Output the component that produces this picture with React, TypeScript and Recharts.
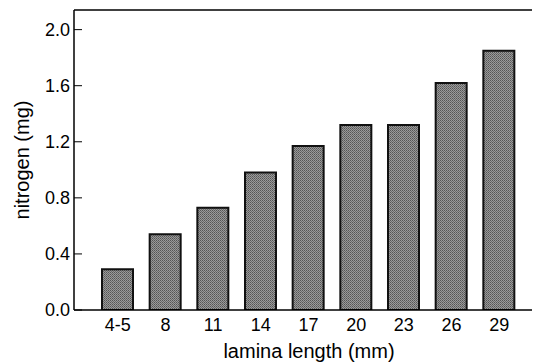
import React from 'react';
import { BarChart, Bar, XAxis, YAxis, ReferenceLine } from 'recharts';

// lamina length classes (mm) and nitrogen per lamina (mg)
const lengths = ['4-5', '8', '11', '14', '17', '20', '23', '26', '29'];
const nitrogen = [0.29, 0.54, 0.73, 0.98, 1.17, 1.32, 1.32, 1.62, 1.85];
const yTicks = [0, 0.4, 0.8, 1.2, 1.6, 2.0];
const Y_MAX = 2.14;

const FONT = '"Liberation Sans", Arial, Helvetica, sans-serif';

const data = lengths.map((len, i) => ({ len, n: nitrogen[i] }));

// custom ticks so the font size sticks
const XTick = (props: any) => {
  const { x, y, payload } = props;
  return (
    <text x={x} y={y} dy="0.71em" textAnchor="middle" fill="#000" fontSize={18} fontFamily={FONT}>
      {payload.value}
    </text>
  );
};

const YTick = (props: any) => {
  const { x, y, payload } = props;
  return (
    <text x={x} y={y} dy="0.36em" textAnchor="end" fill="#000" fontSize={18} fontFamily={FONT}>
      {Number(payload.value).toFixed(1)}
    </text>
  );
};

const App: React.FC = () => {
  return (
    <div style={{ width: 536, height: 362, fontFamily: FONT }}>
      <style>{`body{margin:0}`}</style>
      <BarChart
        width={536}
        height={362}
        data={data}
        margin={{ top: 10, right: 4, bottom: 0, left: 0 }}
        barSize={31}
      >
        <defs>
          <pattern id="stipple" width="2" height="2" patternUnits="userSpaceOnUse">
            <rect width="2" height="2" fill="#9a9a9a" />
            <rect width="1" height="1" fill="#555" />
            <rect x="1" y="1" width="1" height="1" fill="#6a6a6a" />
          </pattern>
        </defs>
        <XAxis
          dataKey="len"
          height={52}
          padding={{ left: 20, right: 9 }}
          tickLine={false}
          tickSize={0}
          tickMargin={8}
          axisLine={{ stroke: '#000', strokeWidth: 1.5 }}
          tick={<XTick />}
          label={{
            value: 'lamina length (mm)',
            position: 'insideBottom',
            offset: 4,
            dx: 6,
            fill: '#000',
            fontSize: 20,
            fontFamily: FONT,
          }}
        />
        <YAxis
          width={74}
          domain={[0, Y_MAX]}
          ticks={yTicks}
          allowDataOverflow
          tickSize={-8}
          tickMargin={12}
          tickLine={{ stroke: '#000', strokeWidth: 1 }}
          axisLine={{ stroke: '#000', strokeWidth: 1.5 }}
          tick={<YTick />}
          label={{
            value: 'nitrogen (mg)',
            angle: -90,
            position: 'center',
            dx: -15,
            fill: '#000',
            fontSize: 20,
            fontFamily: FONT,
          }}
        />
        <ReferenceLine y={Y_MAX} stroke="#000" strokeWidth={1.5} />
        <Bar
          dataKey="n"
          fill="url(#stipple)"
          stroke="#111"
          strokeWidth={2}
          isAnimationActive={false}
        />
      </BarChart>
    </div>
  );
};

export default App;
